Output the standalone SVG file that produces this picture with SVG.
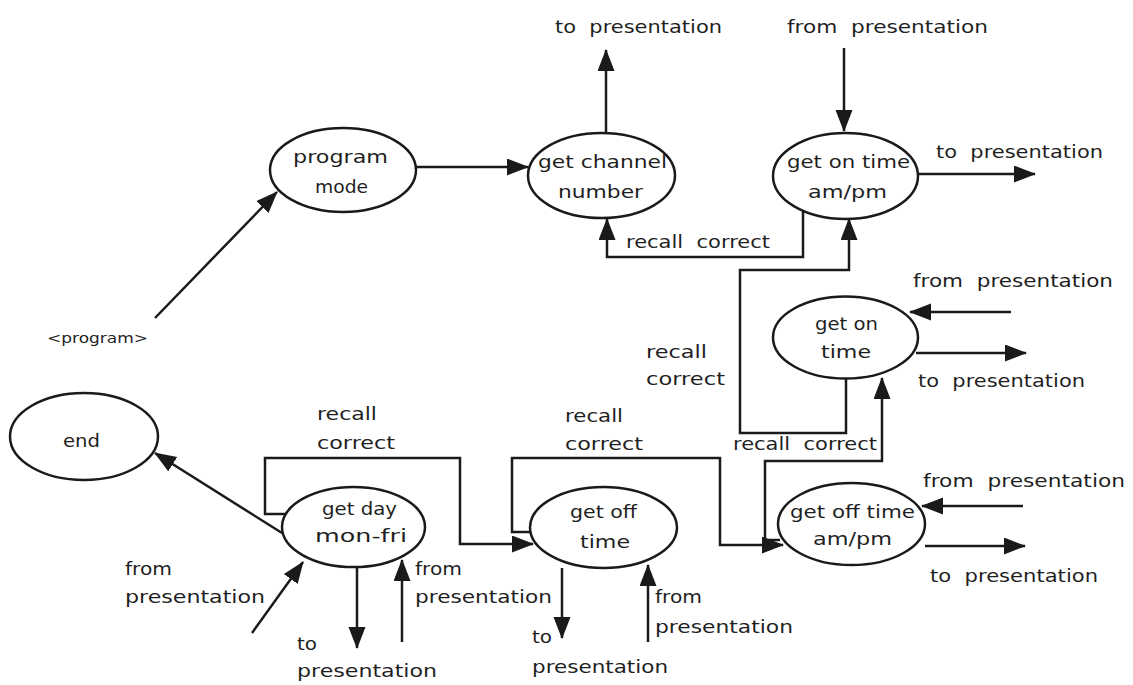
<svg xmlns="http://www.w3.org/2000/svg" width="1133" height="685" viewBox="0 0 1133 685">
<style>
.n ellipse{fill:#fff;stroke:#1a1a1a;stroke-width:2.5}
text{font-family:"DejaVu Sans","Liberation Sans",sans-serif;font-size:18px;fill:#1f1f1f;white-space:pre}
.c path,.c line{fill:none;stroke:#1a1a1a;stroke-width:2.5;marker-end:url(#ah)}
</style>
<defs>
<marker id="ah" markerUnits="userSpaceOnUse" markerWidth="22" markerHeight="18" refX="21" refY="8.5" orient="auto">
<path d="M0,0 L22,8.5 L0,17 z" fill="#1a1a1a"/>
</marker>
</defs>
<rect width="1133" height="685" fill="#fff"/>
<g class="c" id="connectors">
<line x1="155" y1="318" x2="277" y2="192"/>
<line x1="416" y1="167" x2="528" y2="167"/>
<line x1="606" y1="133" x2="606" y2="50"/>
<line x1="844" y1="48" x2="844" y2="131"/>
<line x1="918" y1="174" x2="1035" y2="174"/>
<path d="M803,210 V257 H607 V219"/>
<path d="M846,378 V433 H740 V270 H849 V219"/>
<line x1="1011" y1="312" x2="910" y2="312"/>
<line x1="916" y1="353" x2="1026" y2="353"/>
<path d="M780,540 H765 V461 H882 V378"/>
<line x1="1023" y1="506" x2="922" y2="506"/>
<line x1="925" y1="546" x2="1025" y2="546"/>
<path d="M533,532 H512 V458 H720 V545 H783"/>
<path d="M288,514 H265 V458 H460 V544 H533"/>
<line x1="282" y1="533" x2="155" y2="453"/>
<line x1="252" y1="633" x2="303" y2="562"/>
<line x1="357" y1="567" x2="357" y2="648"/>
<line x1="402" y1="642" x2="402" y2="560"/>
<line x1="562" y1="568" x2="562" y2="638"/>
<line x1="648" y1="642" x2="648" y2="565"/>
</g>
<g class="n" id="program-mode">
<ellipse cx="343" cy="170" rx="73" ry="42"/>
<text x="293" y="163" textLength="95" lengthAdjust="spacingAndGlyphs">program</text>
<text x="315" y="193" textLength="53" lengthAdjust="spacingAndGlyphs">mode</text>
</g>
<g class="n" id="get-channel">
<ellipse cx="601.5" cy="175.5" rx="73.5" ry="42.5"/>
<text x="538" y="168" textLength="129" lengthAdjust="spacingAndGlyphs">get channel</text>
<text x="558" y="198" textLength="85" lengthAdjust="spacingAndGlyphs">number</text>
</g>
<g class="n" id="get-on-time-ampm">
<ellipse cx="845.5" cy="176" rx="72.5" ry="43"/>
<text x="787" y="168" textLength="123" lengthAdjust="spacingAndGlyphs">get on time</text>
<text x="808" y="198" textLength="79" lengthAdjust="spacingAndGlyphs">am/pm</text>
</g>
<g class="n" id="get-on-time">
<ellipse cx="845.5" cy="337.5" rx="72.5" ry="41"/>
<text x="815" y="330" textLength="63" lengthAdjust="spacingAndGlyphs">get on</text>
<text x="821" y="358" textLength="50" lengthAdjust="spacingAndGlyphs">time</text>
</g>
<g class="n" id="get-off-time-ampm">
<ellipse cx="851.5" cy="524" rx="73.5" ry="41"/>
<text x="790" y="518" textLength="125" lengthAdjust="spacingAndGlyphs">get off time</text>
<text x="813" y="545" textLength="79" lengthAdjust="spacingAndGlyphs">am/pm</text>
</g>
<g class="n" id="get-off-time">
<ellipse cx="603.5" cy="527.5" rx="73.5" ry="40.5"/>
<text x="570" y="518" textLength="67" lengthAdjust="spacingAndGlyphs">get off</text>
<text x="580" y="548" textLength="50" lengthAdjust="spacingAndGlyphs">time</text>
</g>
<g class="n" id="get-day">
<ellipse cx="353.5" cy="527" rx="71.5" ry="40"/>
<text x="322" y="515" textLength="75" lengthAdjust="spacingAndGlyphs">get day</text>
<text x="315" y="542" textLength="92" lengthAdjust="spacingAndGlyphs">mon-fri</text>
</g>
<g class="n" id="end">
<ellipse cx="84" cy="436.5" rx="74" ry="43.5"/>
<text x="63" y="447" textLength="37" lengthAdjust="spacingAndGlyphs">end</text>
</g>
<g id="labels">
<text x="47" y="343" style="font-size:14px" textLength="101" lengthAdjust="spacingAndGlyphs">&lt;program&gt;</text>
<text x="555" y="33" textLength="167" lengthAdjust="spacingAndGlyphs">to  presentation</text>
<text x="787" y="33" textLength="201" lengthAdjust="spacingAndGlyphs">from  presentation</text>
<text x="626" y="248" textLength="144" lengthAdjust="spacingAndGlyphs">recall  correct</text>
<text x="936" y="158" textLength="167" lengthAdjust="spacingAndGlyphs">to  presentation</text>
<text x="913" y="287" textLength="200" lengthAdjust="spacingAndGlyphs">from  presentation</text>
<text x="918" y="387" textLength="167" lengthAdjust="spacingAndGlyphs">to  presentation</text>
<text x="646" y="358" textLength="61" lengthAdjust="spacingAndGlyphs">recall</text>
<text x="646" y="385" textLength="79" lengthAdjust="spacingAndGlyphs">correct</text>
<text x="733" y="450" textLength="144" lengthAdjust="spacingAndGlyphs">recall  correct</text>
<text x="923" y="487" textLength="202" lengthAdjust="spacingAndGlyphs">from  presentation</text>
<text x="930" y="582" textLength="168" lengthAdjust="spacingAndGlyphs">to  presentation</text>
<text x="565" y="422" textLength="58" lengthAdjust="spacingAndGlyphs">recall</text>
<text x="565" y="450" textLength="78" lengthAdjust="spacingAndGlyphs">correct</text>
<text x="317" y="420" textLength="60" lengthAdjust="spacingAndGlyphs">recall</text>
<text x="317" y="449" textLength="78" lengthAdjust="spacingAndGlyphs">correct</text>
<text x="125" y="575" textLength="47" lengthAdjust="spacingAndGlyphs">from</text>
<text x="125" y="603" textLength="140" lengthAdjust="spacingAndGlyphs">presentation</text>
<text x="297" y="650" textLength="20" lengthAdjust="spacingAndGlyphs">to</text>
<text x="297" y="677" textLength="140" lengthAdjust="spacingAndGlyphs">presentation</text>
<text x="415" y="575" textLength="47" lengthAdjust="spacingAndGlyphs">from</text>
<text x="415" y="603" textLength="137" lengthAdjust="spacingAndGlyphs">presentation</text>
<text x="532" y="643" textLength="20" lengthAdjust="spacingAndGlyphs">to</text>
<text x="532" y="673" textLength="136" lengthAdjust="spacingAndGlyphs">presentation</text>
<text x="655" y="603" textLength="47" lengthAdjust="spacingAndGlyphs">from</text>
<text x="655" y="633" textLength="138" lengthAdjust="spacingAndGlyphs">presentation</text>
</g>
</svg>
